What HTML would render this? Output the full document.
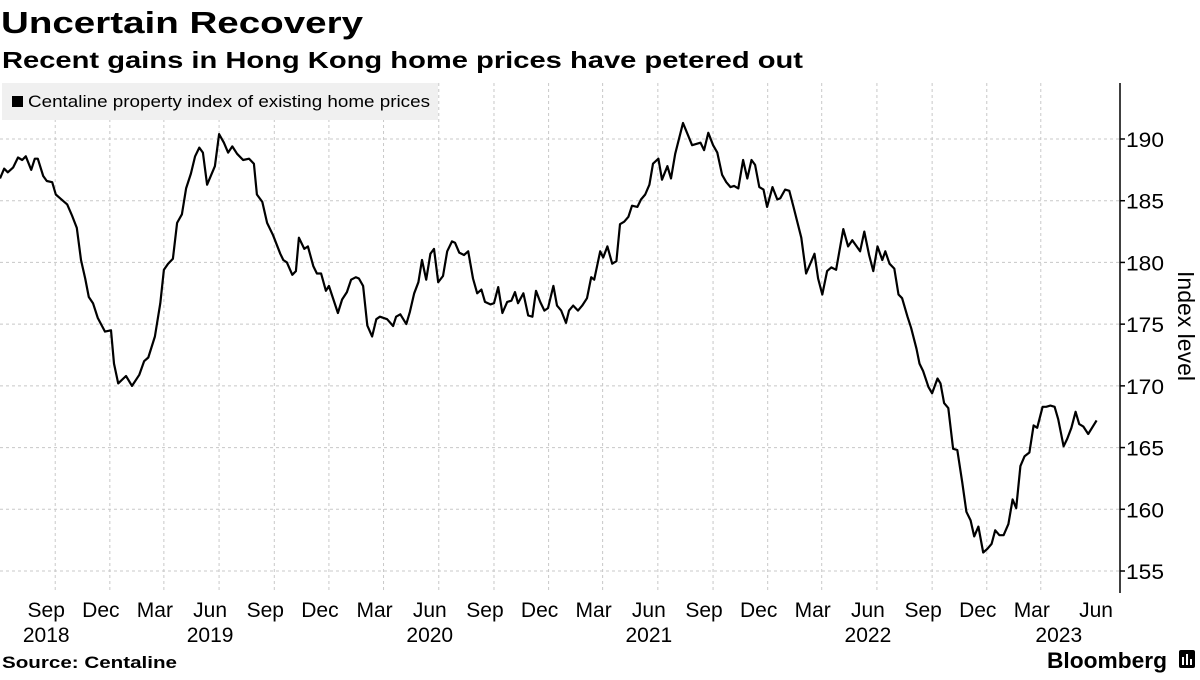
<!DOCTYPE html>
<html><head><meta charset="utf-8">
<style>
body{margin:0;width:1200px;height:675px;background:#fff;overflow:hidden;font-family:"Liberation Sans",sans-serif;}
svg text{font-family:"Liberation Sans",sans-serif;}
</style></head>
<body>
<svg id="chart" width="1200" height="675" viewBox="0 0 1200 675" xmlns="http://www.w3.org/2000/svg">
<text x="1" y="33" font-size="31" font-weight="bold" fill="#000" textLength="362" lengthAdjust="spacingAndGlyphs">Uncertain Recovery</text>
<text x="2" y="68" font-size="23" font-weight="bold" fill="#000" textLength="801" lengthAdjust="spacingAndGlyphs">Recent gains in Hong Kong home prices have petered out</text>
<g id="grid"></g>
<g>
<rect x="2" y="83" width="436" height="37" fill="#f0f0f0"/>
<rect x="12" y="96" width="11" height="11" fill="#000"/>
<text x="28" y="107" font-size="17" fill="#000" textLength="402" lengthAdjust="spacingAndGlyphs">Centaline property index of existing home prices</text>
</g>
<g id="series"></g>
<g id="axes"></g>
<text transform="translate(1178,326) rotate(90)" font-size="23" text-anchor="middle" fill="#000">Index level</text>
<text x="2" y="668" font-size="17" font-weight="bold" fill="#000" textLength="175" lengthAdjust="spacingAndGlyphs">Source: Centaline</text>
<text x="1047" y="668" font-size="22" font-weight="bold" fill="#000" textLength="120" lengthAdjust="spacingAndGlyphs">Bloomberg</text>
<g><rect x="1179" y="650" width="16" height="18" rx="2" fill="#000"/><rect x="1182" y="657" width="2" height="8" fill="#fff"/><rect x="1186" y="654" width="2" height="11" fill="#fff"/><rect x="1190" y="659" width="2" height="6" fill="#fff"/></g>
</svg>
<script>
const startDate = "2018-06-01";
const dayOffsets = [0,7,13,22,30,37,43,52,58,63,72,78,87,93,100,112,120,128,135,142,148,155,163,175,185,190,197,210,220,232,240,247,258,267,273,280,288,295,303,310,318,325,332,338,345,358,365,373,380,387,395,405,415,423,428,437,445,455,467,
472,478,487,493,498,507,513,522,528,535,543,548,563,570,578,585,593,598,605,612,620,627,633,645,655,660,667,677,683,690,697,703,710,717,723,730,738,745,753,758,765,773,780,788,795,802,808,817,823,830,837,845,852,858,863,872,880,887,893,900,907,913,922,928,935,943,948,955,963,970,978,985,990,
1000,1005,1012,1020,1027,1033,1040,1047,1053,1062,1068,1075,1082,1088,1097,1103,1112,1118,1125,1138,1153,1167,1173,1180,1188,1195,1203,1210,1217,1223,1230,1238,1245,1252,1258,1265,1272,1278,1287,1295,1300,1308,1315,1322,1335,1343,1357,1363,1370,1378,1385,1393,1405,1413,1420,1433,1440,1448,1455,1462,
1470,1475,1482,1490,1497,1503,1512,1518,1527,1532,1538,1547,1553,1562,1567,1573,1580,1588,1595,1603,1610,1617,1623,1630,1638,1645,1652,1658,1665,1672,1680,1687,1693,1700,1707,1715,1722,1728,1737,1743,1750,1757,1763,1772,1778,1785,1792,1798,1805,1813,1827];
const indexValues = [186.8,187.6,187.3,187.7,188.5,188.3,188.6,187.5,188.4,188.4,187.0,186.6,186.5,185.5,185.2,184.7,183.8,182.8,180.2,178.7,177.2,176.7,175.5,174.4,174.5,171.8,170.2,170.8,170.0,170.9,172.0,172.3,174.0,176.7,179.4,179.9,180.3,183.2,183.9,186.0,187.2,188.6,189.3,188.9,186.3,187.8,190.4,189.7,188.9,189.4,188.8,188.3,188.4,188.0,185.5,184.9,183.2,182.2,180.7,
180.2,180.0,179.0,179.3,182.0,181.1,181.3,179.7,179.1,179.1,177.7,178.1,175.9,177.0,177.6,178.6,178.8,178.7,178.1,174.9,174.0,175.4,175.6,175.4,174.85,175.6,175.8,175.0,176.0,177.5,178.4,180.2,178.6,180.7,181.1,178.4,178.9,180.9,181.7,181.6,180.8,180.6,180.9,178.7,177.5,177.8,176.8,176.6,176.7,178.0,175.9,176.8,176.9,177.6,176.7,177.5,175.7,175.6,177.7,176.8,176.1,176.3,178.1,176.5,176.1,175.1,176.1,176.5,176.1,176.5,177.1,178.8,178.6,
180.9,180.4,181.3,179.9,180.1,183.1,183.3,183.7,184.6,184.5,185.1,185.5,186.3,188.0,188.4,186.7,187.8,186.8,188.8,191.3,189.5,189.7,189.1,190.5,189.5,188.9,187.1,186.5,186.1,186.2,186.0,188.3,186.8,188.3,187.9,186.1,185.9,184.5,186.1,185.1,185.2,185.9,185.8,184.5,182.0,179.1,180.7,178.7,177.4,179.3,179.6,179.4,182.7,181.3,181.8,180.9,182.5,180.6,179.3,181.3,
180.2,180.9,179.9,179.5,177.4,177.1,175.6,174.7,173.0,171.8,171.2,169.9,169.4,170.6,170.2,168.6,168.2,164.9,164.8,162.2,159.8,159.1,157.8,158.6,156.5,156.8,157.2,158.3,157.9,157.9,158.8,160.8,160.1,163.5,164.3,164.6,166.8,166.6,168.3,168.3,168.4,168.3,167.3,165.1,165.7,166.6,167.9,166.9,166.7,166.1,167.2];
const yTicks = [155,160,165,170,175,180,185,190];
const xTickMonths = ["Sep","Dec","Mar","Jun","Sep","Dec","Mar","Jun","Sep","Dec","Mar","Jun","Sep","Dec","Mar","Jun","Sep","Dec","Mar","Jun"];
const xTickDates = ["2018-09-01","2018-12-01","2019-03-01","2019-06-01","2019-09-01","2019-12-01","2020-03-01","2020-06-01","2020-09-01","2020-12-01","2021-03-01","2021-06-01","2021-09-01","2021-12-01","2022-03-01","2022-06-01","2022-09-01","2022-12-01","2023-03-01","2023-06-01"];
const yearLabels = ["2018","2019","2020","2021","2022","2023"];
const yearLabelDates = ["2018-09-01","2019-06-01","2020-06-01","2021-06-01","2022-06-01","2023-04-15"];

const NS="http://www.w3.org/2000/svg";
const t0 = Date.parse(startDate);
const DAY=86400000;
const totalDays = (Date.parse("2023-06-01")-t0)/DAY;
function xDays(d){return 0 + d/totalDays*1096;}
function xDate(s){return xDays((Date.parse(s)-t0)/DAY);}
function yScale(v){return 139 + (190-v)*12.343;}
function mk(tag,attrs,parent){const e=document.createElementNS(NS,tag);for(const k in attrs)e.setAttribute(k,attrs[k]);parent.appendChild(e);return e;}
const grid=document.getElementById('grid'), axes=document.getElementById('axes'), series=document.getElementById('series');
yTicks.forEach(v=>{
  const l=mk('line',{x1:0,x2:1120,y1:yScale(v),y2:yScale(v),stroke:'#c8c8c8','stroke-width':1,'stroke-dasharray':'3,3'},grid);
  
  
  const tk=mk('line',{x1:1120,x2:1125,y1:yScale(v),y2:yScale(v),stroke:'#000','stroke-width':1.5},axes);
  
  
  const t=mk('text',{x:1126,y:yScale(v)+8,'font-size':21,fill:'#000',textLength:38,lengthAdjust:'spacingAndGlyphs'},axes);
  t.textContent=v;
  
  
});
xTickDates.forEach((d,i)=>{
  const x=xDate(d);
  if(i<xTickDates.length-1){
    const l=mk('line',{x1:x,x2:x,y1:83,y2:593,stroke:'#c8c8c8','stroke-width':1,'stroke-dasharray':'3,3'},grid);
    
    
  }
  const lx = i<xTickDates.length-1 ? x-9 : x;
  const t=mk('text',{x:lx,y:617,'font-size':21,'text-anchor':'middle',fill:'#000'},axes);
  t.textContent=xTickMonths[i];
  
  
});
yearLabels.forEach((y,i)=>{
  const t=mk('text',{x:xDate(yearLabelDates[i])-9,y:642,'font-size':21,'text-anchor':'middle',fill:'#000'},axes);
  t.textContent=y;
  
  
});
const ax=mk('line',{x1:1120,x2:1120,y1:83,y2:593,stroke:'#000','stroke-width':1.5},axes);


const pts=dayOffsets.map((d,i)=>xDays(d).toFixed(1)+','+yScale(indexValues[i]).toFixed(1)).join(' ');
const line=mk('polyline',{points:pts,fill:'none',stroke:'#000','stroke-width':2.2,'stroke-linejoin':'round'},series);


</script>
</body></html>
